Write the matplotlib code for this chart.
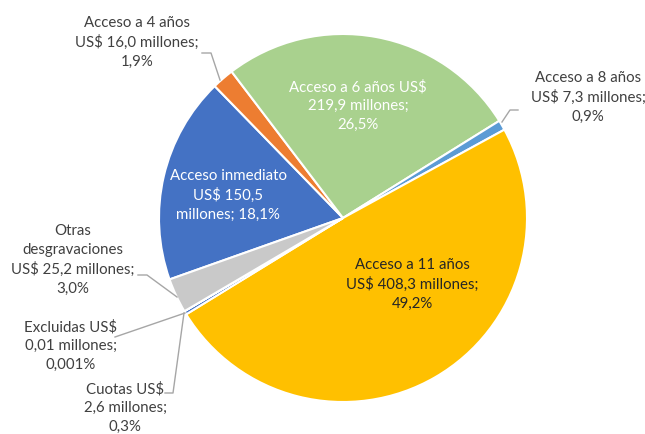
import matplotlib
matplotlib.use("Agg")
import matplotlib.pyplot as plt

# montos en millones de US$
categorias = ["Acceso inmediato", "Acceso a 4 años", "Acceso a 6 años", "Acceso a 8 años",
              "Acceso a 11 años", "Cuotas", "Excluidas", "Otras desgravaciones"]
valores = [150.5, 16.0, 219.9, 7.3, 408.3, 2.6, 0.01, 25.2]
colores = ["#4472C4", "#ED7D31", "#A9D18E", "#5B9BD5", "#FFC000", "#4472C4", "#A5A5A5", "#C9C9C9"]

etiquetas = [
    "Acceso inmediato\nUS$ 150,5\nmillones; 18,1%",
    "Acceso a 4 años\nUS$ 16,0 millones;\n1,9%",
    "Acceso a 6 años US$\n219,9 millones;\n26,5%",
    "Acceso a 8 años\nUS$ 7,3 millones;\n0,9%",
    "Acceso a 11 años\nUS$ 408,3 millones;\n49,2%",
    "Cuotas US$\n2,6 millones;\n0,3%",
    "Excluidas US$\n0,01 millones;\n0,001%",
    "Otras\ndesgravaciones\nUS$ 25,2 millones;\n3,0%",
]
# posicion de cada etiqueta (pixeles, y desde arriba) y color del texto
pos_etiquetas = [(228, 195), (137, 42), (358, 106), (588, 97), (412, 284), (125, 408), (71, 346), (73, 260)]
color_texto = ["white", "#404040", "white", "#404040", "#262626", "#404040", "#404040", "#404040"]
# lineas guia (pixeles)
guias = [
    None,
    [(202, 53), (211, 53), (220, 80)],
    None,
    [(518, 110), (510, 110), (502, 122)],
    None,
    [(165, 393), (173, 393), (184, 313)],
    [(115, 337), (185, 313)],
    [(138, 275), (147, 275), (177, 297)],
]

W, H = 645, 434
fig = plt.figure(figsize=(W / 100, H / 100), dpi=100)
ax = fig.add_axes([0, 0, 1, 1])

ax.pie(valores, colors=colores, startangle=-160.5, counterclock=False,
       radius=184, center=(343, H - 218),
       wedgeprops=dict(edgecolor="white", linewidth=1.5))

for txt, (x, y), c in zip(etiquetas, pos_etiquetas, color_texto):
    ax.text(x, H - y, txt, ha="center", va="center", color=c,
            fontsize=10.8, family="Lato", linespacing=1.42)

for g in guias:
    if g is None:
        continue
    ax.plot([p[0] for p in g], [H - p[1] for p in g], color="#A6A6A6", lw=1)

ax.set_xlim(0, W)
ax.set_ylim(0, H)
ax.set_aspect("equal")
ax.axis("off")
fig.savefig("out.png", dpi=100)
